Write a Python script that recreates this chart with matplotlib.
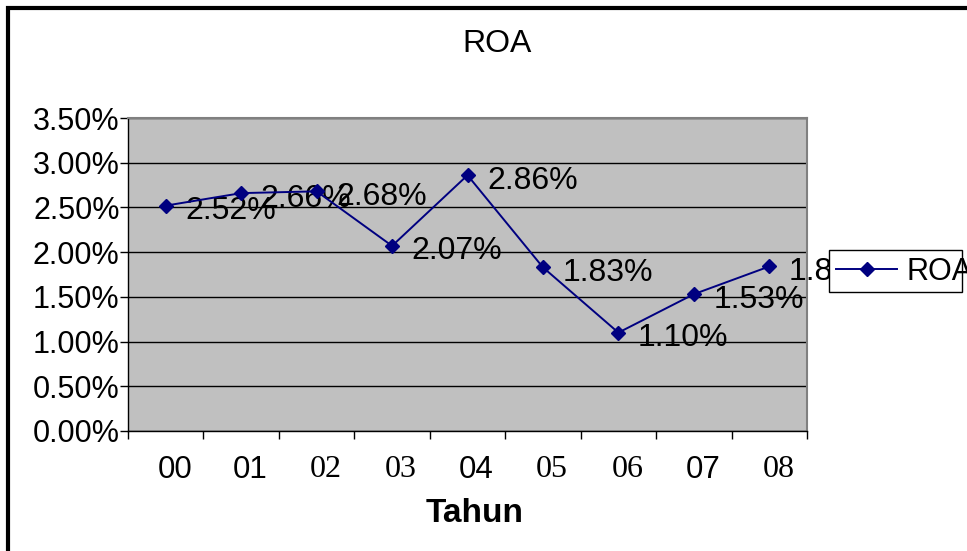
import matplotlib
matplotlib.use("Agg")
import matplotlib.pyplot as plt
import matplotlib.transforms as mtransforms
from matplotlib.patches import Rectangle
from matplotlib.ticker import FuncFormatter

years = ["00", "01", "02", "03", "04", "05", "06", "07", "08"]
roa = [2.52, 2.66, 2.68, 2.07, 2.86, 1.83, 1.10, 1.53, 1.84]
serif_years = ["02", "03", "05", "06", "08"]

W, H = 967, 551
fig = plt.figure(figsize=(W / 100, H / 100), dpi=100)
fig.patch.set_facecolor("white")

# outer chart frame (right/bottom edges fall outside the picture)
fig.patches.append(Rectangle((8 / W, -0.1), 1.2, (H - 8) / H + 0.1,
                             transform=fig.transFigure, fill=False,
                             edgecolor="black", linewidth=3, zorder=0))

ax = fig.add_axes([128 / W, (H - 431) / H, 679 / W, 313 / H])
ax.set_facecolor("#C0C0C0")
x = list(range(len(years)))
ax.plot(x, roa, color="#000080", linewidth=1.4, marker="D", markersize=7.5,
        markerfacecolor="#000080", markeredgecolor="#000080", label="ROA",
        zorder=3, clip_on=False)

for xi, v in zip(x, roa):
    ax.annotate(f"{v:.2f}%", (xi, v), xytext=(14, -4), textcoords="offset points",
                fontsize=23, family="Liberation Sans", va="center", ha="left",
                zorder=2, annotation_clip=False)

ax.set_xlim(-0.5, len(years) - 0.5)
ax.set_ylim(0, 3.5)
ax.set_yticks([i * 0.5 for i in range(8)])
ax.yaxis.set_major_formatter(FuncFormatter(lambda v, p: f"{v:.2f}%"))
ax.grid(axis="y", color="black", linewidth=1)
ax.set_axisbelow(True)

for s in ["top", "right"]:
    ax.spines[s].set_color("#808080")
    ax.spines[s].set_linewidth(1.5)
for s in ["left", "bottom"]:
    ax.spines[s].set_color("black")
    ax.spines[s].set_linewidth(1)

ax.tick_params(axis="y", direction="out", length=6, width=1, labelsize=22, pad=0)
ax.set_xticks([i - 0.5 for i in range(len(years) + 1)], minor=False)
ax.set_xticklabels([])
ax.set_xticks(x, minor=True)
ax.set_xticklabels(years, minor=True)
ax.tick_params(axis="x", which="major", direction="out", length=6, width=1)
ax.tick_params(axis="x", which="minor", length=0, pad=17)
for lbl in ax.get_yticklabels():
    lbl.set_family("Liberation Sans")
off = mtransforms.ScaledTranslation(9 / 100, 0, fig.dpi_scale_trans)
for lbl in ax.get_xticklabels(minor=True):
    if lbl.get_text() in serif_years:
        lbl.set_family("Liberation Serif")
        lbl.set_fontsize(23)
    else:
        lbl.set_family(["Liberation Sans Narrow", "Liberation Sans"])
        lbl.set_fontsize(22.5)
    lbl.set_transform(lbl.get_transform() + off)

fig.text(497 / W, 1 - 44 / H, "ROA", fontsize=23, family="Liberation Sans",
         ha="center", va="center")
fig.text(475 / W, 1 - 514 / H, "Tahun", fontsize=24, family="Liberation Sans",
         fontweight="bold", ha="center", va="center")

# legend
fig.patches.append(Rectangle((829 / W, 1 - 292 / H), 133 / W, 42 / H,
                             transform=fig.transFigure, facecolor="white",
                             edgecolor="black", linewidth=1, zorder=5))
leg = fig.legend(loc="center left", bbox_to_anchor=(836 / W, 1 - 272 / H),
                 frameon=False, prop={"family": "Liberation Sans", "size": 22},
                 handlelength=2.0, handletextpad=0.3, borderpad=0, borderaxespad=0)
leg.set_zorder(6)

fig.savefig("out.png", dpi=100)
